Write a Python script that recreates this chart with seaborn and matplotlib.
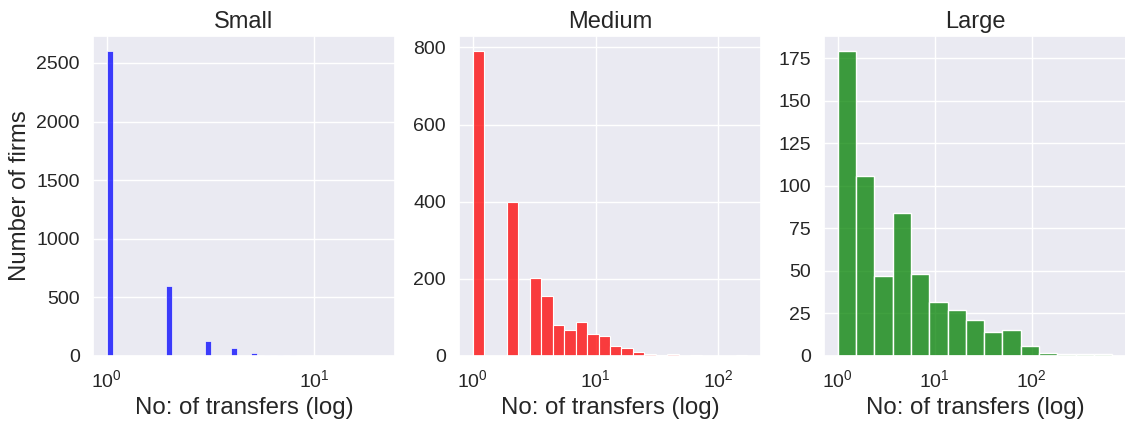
import numpy as np
import pandas as pd
import matplotlib
matplotlib.use("Agg")
import matplotlib.pyplot as plt
import seaborn as sns

# ---- data: number of transfers (value) and number of firms (count) ----
small_transfers = [1, 2, 3, 4, 5, 6, 7, 8, 9, 10, 11, 12, 13, 14, 15, 16, 17, 18, 19, 20, 21]
small_firms = [2600, 600, 130, 70, 22, 10, 7, 5, 4, 4, 3, 3, 2, 2, 2, 2, 2, 1, 1, 1, 1]

medium_transfers = [1, 2, 3, 4, 5, 6, 8, 10, 12, 15, 18, 22, 27, 35, 43, 53, 65, 80, 150]
medium_firms = [790, 400, 203, 155, 80, 68, 87, 56, 51, 25, 21, 10, 6, 3, 6, 1, 3, 1, 2]

large_transfers = [1, 2, 3, 5, 7, 11, 17, 26, 40, 62, 95, 150, 230, 350, 550]
large_firms = [179, 106, 47, 84, 48, 32, 27, 21, 14, 15, 6, 2, 1, 1, 1]

titles = ["Small", "Medium", "Large"]
colors = ["blue", "red", "green"]
bin_counts = [42, 24, 15]
max_transfers = [21, 172, 676]
xlabel = "No: of transfers (log)"
ylabel = "Number of firms"

sns.set_theme(style="darkgrid")
plt.rcParams["font.family"] = ["Liberation Sans", "DejaVu Sans"]
plt.rcParams["mathtext.fontset"] = "custom"
plt.rcParams["mathtext.rm"] = "Liberation Sans"
plt.rcParams["mathtext.it"] = "Liberation Sans:italic"
plt.rcParams["mathtext.bf"] = "Liberation Sans:bold"

fig = plt.figure(figsize=(11.25, 4.26), dpi=100)
W, H = 1125, 426
lefts = [93, 459, 824]
width = 302
top, bottom = 36, 356

datasets = [(small_transfers, small_firms), (medium_transfers, medium_firms),
            (large_transfers, large_firms)]

for i, ((vals, cnts), title, col, nb, mx) in enumerate(
        zip(datasets, titles, colors, bin_counts, max_transfers)):
    ax = fig.add_axes([lefts[i] / W, 1 - bottom / H, width / W, (bottom - top) / H])
    df = pd.DataFrame({"transfers": vals, "firms": cnts})
    sns.histplot(data=df, x="transfers", weights="firms", bins=nb,
                 binrange=(0, np.log10(mx)), log_scale=True, color=col, ax=ax)
    ax.set_title(title, fontsize=17)
    ax.set_xlabel(xlabel, fontsize=17.3)
    if i == 0:
        ax.set_ylabel(ylabel, fontsize=17.3)
    else:
        ax.set_ylabel("")
    ax.tick_params(axis="both", labelsize=14)
    ax.tick_params(axis="x", which="minor", length=0)

fig.savefig("out.png", dpi=100)
